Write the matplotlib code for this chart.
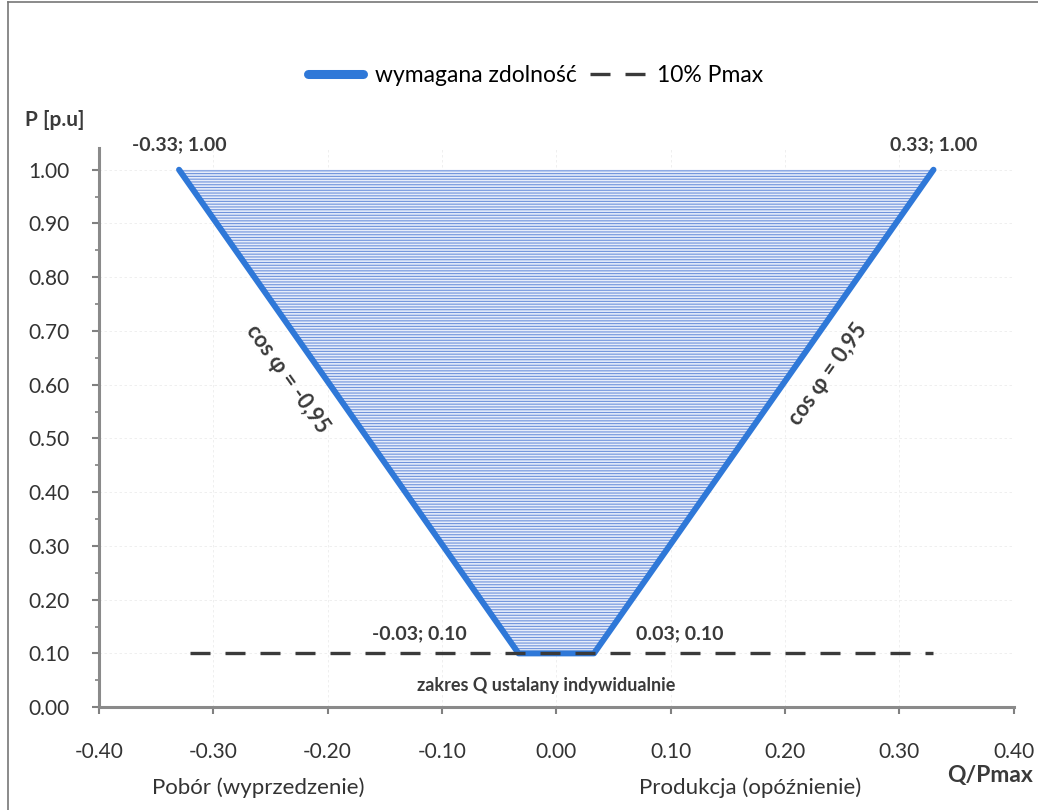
import matplotlib.pyplot as plt
from matplotlib.lines import Line2D

plt.rcParams['font.family'] = ['Lato', 'DejaVu Sans']
plt.rcParams['hatch.linewidth'] = 0.8

# capability curve Q/Pmax vs P
q_vals = [-0.33, -0.033, 0.033, 0.33]
p_vals = [1.00, 0.10, 0.10, 1.00]

# 10% Pmax line
pmin_q = [-0.32, 0.33]
pmin_p = [0.10, 0.10]

point_labels = ["-0.33; 1.00", "-0.03; 0.10", "0.03; 0.10", "0.33; 1.00"]
xticks = [-0.4, -0.3, -0.2, -0.1, 0.0, 0.1, 0.2, 0.3, 0.4]
yticks = [0.0, 0.1, 0.2, 0.3, 0.4, 0.5, 0.6, 0.7, 0.8, 0.9, 1.0]

blue = "#2f78d8"
dark = "#3a3a3a"

fig = plt.figure(figsize=(10.38, 8.1), dpi=100)
ax = fig.add_axes([0.0954, 0.127, 0.881, 0.69])

# shaded area (horizontal hatching)
ax.fill(q_vals, p_vals, facecolor="#e6ecfa", edgecolor="#6f93dc",
        hatch="------", linewidth=0)
ax.plot(q_vals, p_vals, color=blue, lw=4.3, solid_capstyle="round",
        solid_joinstyle="round", clip_on=False)
ax.plot(pmin_q, pmin_p, color=dark, lw=2.4, dashes=(6, 4.5), zorder=3)

ax.set_xlim(-0.4, 0.4)
ax.set_ylim(0, 1.04)
ax.set_xticks(xticks)
ax.set_yticks(yticks)
ax.set_xticklabels([f"{v:.2f}" for v in xticks])
ax.set_yticklabels([f"{v:.2f}" for v in yticks])
ax.set_yticks([v + 0.05 for v in yticks[:-1]], minor=True)
ax.tick_params(axis="both", labelsize=15, labelcolor="#333333", length=5,
               width=1.5, color="#808080")
ax.tick_params(axis="y", pad=16)
ax.tick_params(axis="x", pad=20)
ax.tick_params(axis="y", which="minor", length=3, width=1.2, color="#808080")

ax.grid(True, color="#ececec", lw=0.6, ls=(0, (3, 3)))
ax.set_axisbelow(True)
for s in ["top", "right"]:
    ax.spines[s].set_visible(False)
for s in ["left", "bottom"]:
    ax.spines[s].set_color("#8a8a8a")
    ax.spines[s].set_linewidth(2.2)

# point labels
ax.text(-0.33, 1.03, point_labels[0], ha="center", va="bottom",
        fontsize=14, fontweight="bold", color=dark)
ax.text(0.33, 1.03, point_labels[3], ha="center", va="bottom",
        fontsize=14, fontweight="bold", color=dark)
ax.text(-0.12, 0.12, point_labels[1], ha="center", va="bottom",
        fontsize=14, fontweight="bold", color=dark)
ax.text(0.108, 0.12, point_labels[2], ha="center", va="bottom",
        fontsize=14, fontweight="bold", color=dark)
ax.text(-0.009, 0.04, "zakres Q ustalany indywidualnie", ha="center",
        va="center", fontsize=13, fontweight="bold", color=dark)

ax.text(-0.235, 0.61, "cos φ = -0,95", rotation=-54.6, ha="center",
        va="center", fontsize=15.5, fontweight="bold", color=dark,
        rotation_mode="anchor")
ax.text(0.238, 0.62, "cos φ = 0,95", rotation=54.6, ha="center",
        va="center", fontsize=15.5, fontweight="bold", color=dark,
        rotation_mode="anchor")

# axis titles
fig.text(0.053, 0.852, "P [p.u]", ha="center", va="center", fontsize=15,
         fontweight="bold", color=dark)
fig.text(0.954, 0.043, "Q/Pmax", ha="center", va="center", fontsize=16.5,
         fontweight="bold", color=dark)
fig.text(0.249, 0.028, "Pobór (wyprzedzenie)", ha="center", va="center",
         fontsize=16, color="#333333")
fig.text(0.723, 0.028, "Produkcja (opóźnienie)", ha="center", va="center",
         fontsize=16, color="#333333")

handles = [Line2D([], [], color=blue, lw=6.5, solid_capstyle="round"),
           Line2D([], [], color=dark, lw=2.4, dashes=(6, 4.5))]
fig.legend(handles, ["wymagana zdolność", "10% Pmax"], loc="center",
           bbox_to_anchor=(0.516, 0.907), ncol=2, frameon=False, fontsize=16.5,
           handlelength=2.4, columnspacing=0.6, handletextpad=0.5)

# outer border of the chart area
fig.add_artist(Line2D([0.008, 0.008], [0, 0.997], color="#777777", lw=1.2))
fig.add_artist(Line2D([0.008, 1.0], [0.997, 0.997], color="#777777", lw=1.2))

fig.savefig("out.png", dpi=100)
